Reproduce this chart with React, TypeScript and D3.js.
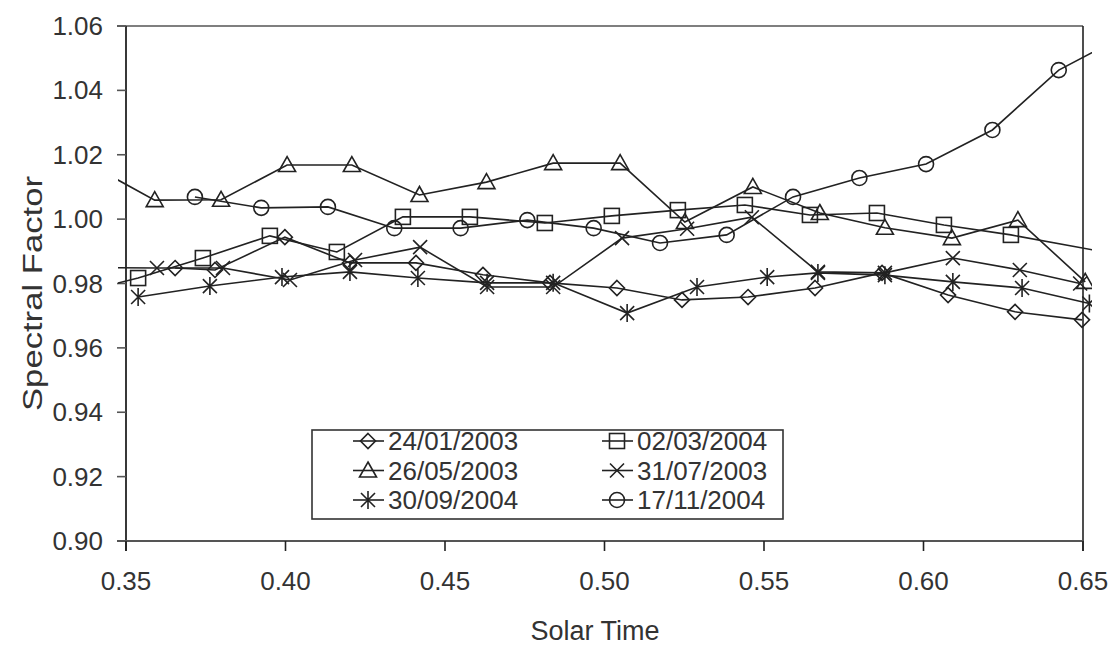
import React from 'react';
import * as d3 from 'd3';

const xTicks = [0.35, 0.4, 0.45, 0.5, 0.55, 0.6, 0.65];
const yTicks = [0.9, 0.92, 0.94, 0.96, 0.98, 1.0, 1.02, 1.04, 1.06];

const seriesNames = ['24/01/2003', '02/03/2004', '26/05/2003', '31/07/2003', '30/09/2004', '17/11/2004'];

const tJan03 = [0.3654, 0.3779, 0.3998, 0.4202, 0.4409, 0.4619, 0.4829, 0.5039, 0.5243, 0.545, 0.566, 0.587, 0.6077, 0.6287, 0.6497];
const vJan03 = [0.9848, 0.9842, 0.9944, 0.9864, 0.9864, 0.9827, 0.9802, 0.9786, 0.9749, 0.9758, 0.9786, 0.9833, 0.9764, 0.9712, 0.9687];

const tMar04 = [0.3327, 0.3538, 0.3741, 0.3951, 0.4161, 0.4368, 0.4578, 0.4813, 0.5023, 0.523, 0.544, 0.5644, 0.5854, 0.6064, 0.6274, 0.66];
const vMar04 = [0.9765, 0.9817, 0.9879, 0.9948, 0.9898, 1.0007, 1.0007, 0.9988, 1.001, 1.0028, 1.0044, 1.0013, 1.0019, 0.9982, 0.9951, 0.9892];

const tMay03 = [0.3382, 0.359, 0.3798, 0.4005, 0.4208, 0.442, 0.463, 0.4839, 0.5049, 0.5252, 0.5465, 0.5675, 0.5879, 0.6089, 0.6296, 0.6507];
const vMay03 = [1.0172, 1.0059, 1.006, 1.0168, 1.0168, 1.0075, 1.0115, 1.0174, 1.0174, 0.9991, 1.01, 1.0019, 0.9973, 0.9941, 0.9997, 0.9805];

const tJul03 = [0.3387, 0.3597, 0.3804, 0.4014, 0.4218, 0.4422, 0.4632, 0.4839, 0.5055, 0.5259, 0.5462, 0.5669, 0.5879, 0.6092, 0.6302, 0.6491];
const vJul03 = [0.985, 0.9848, 0.9848, 0.9811, 0.9873, 0.9913, 0.9789, 0.9789, 0.9941, 0.997, 1.0006, 0.9836, 0.9833, 0.9879, 0.9842, 0.98];

const tSep04 = [0.3538, 0.3763, 0.3989, 0.4202, 0.4415, 0.4632, 0.4839, 0.5071, 0.529, 0.551, 0.5669, 0.5879, 0.6092, 0.6309, 0.652];
const vSep04 = [0.9758, 0.9792, 0.982, 0.9836, 0.9817, 0.9802, 0.9802, 0.9708, 0.9789, 0.982, 0.9833, 0.9826, 0.9805, 0.9786, 0.9738];

const tNov04 = [0.3716, 0.3924, 0.4133, 0.4341, 0.4549, 0.4758, 0.4966, 0.5174, 0.5383, 0.5591, 0.5799, 0.6008, 0.6216, 0.6424, 0.6633];
const vNov04 = [1.0069, 1.0035, 1.0038, 0.9972, 0.9972, 0.9997, 0.9972, 0.9926, 0.9951, 1.0069, 1.0128, 1.0171, 1.0277, 1.0463, 1.0572];

const seriesT = [tJan03, tMar04, tMay03, tJul03, tSep04, tNov04];
const seriesV = [vJan03, vMar04, vMay03, vJul03, vSep04, vNov04];
const seriesMarker = ['diamond', 'square', 'triangle', 'cross', 'asterisk', 'circle'];

const W = 1114, H = 645;
const L = 126, R = 1083, T = 26, B = 541;
const INK = '#222';
const FONT = '"Liberation Sans", Arial, Helvetica, sans-serif';

function Marker({ type, x, y }: { type: string; x: number; y: number }) {
  const s = 7.5;
  const common = { fill: 'none', stroke: INK, strokeWidth: 1.6 };
  if (type === 'diamond') {
    return <path d={`M${x},${y - s}L${x + s},${y}L${x},${y + s}L${x - s},${y}Z`} {...common} />;
  }
  if (type === 'square') {
    return <rect x={x - s} y={y - s} width={2 * s} height={2 * s} {...common} />;
  }
  if (type === 'triangle') {
    return <path d={`M${x},${y - s - 1}L${x + s + 1},${y + s - 1}L${x - s - 1},${y + s - 1}Z`} {...common} />;
  }
  if (type === 'cross') {
    const c = 7;
    return <path d={`M${x - c},${y - c}L${x + c},${y + c}M${x - c},${y + c}L${x + c},${y - c}`} {...common} />;
  }
  if (type === 'asterisk') {
    const c = 7;
    return (
      <path
        d={`M${x - c},${y - c}L${x + c},${y + c}M${x - c},${y + c}L${x + c},${y - c}M${x},${y - c - 2}L${x},${y + c + 2}`}
        {...common}
      />
    );
  }
  return <circle cx={x} cy={y} r={s} {...common} />;
}

export default function App() {
  const x = d3.scaleLinear().domain([0.35, 0.65]).range([L, R]);
  const y = d3.scaleLinear().domain([0.9, 1.06]).range([B, T]);
  const line = d3
    .line<[number, number]>()
    .x((d) => x(d[0]))
    .y((d) => y(d[1]));

  const legendRows = [
    [0, 1],
    [2, 3],
    [4, 5],
  ];

  return (
    <svg width={W} height={H} style={{ position: 'absolute', left: 0, top: 0, background: '#fff' }} fontFamily={FONT}>
      <defs>
        <clipPath id="plotclip">
          <rect x={L - 8} y={0} width={R - L + 17} height={B + 5} />
        </clipPath>
      </defs>
      <rect x={0} y={0} width={W} height={H} fill="#fff" />

      {/* frame */}
      <line x1={L - 9} x2={R} y1={T} y2={T} stroke="#555" strokeWidth={1.6} />
      <line x1={R} x2={R} y1={T} y2={B + 10} stroke={INK} strokeWidth={1.6} />
      <line x1={L} x2={L} y1={T} y2={B + 10} stroke={INK} strokeWidth={1.8} />
      <line x1={L - 9} x2={R} y1={B} y2={B} stroke="#555" strokeWidth={1.8} />

      {/* y ticks */}
      {yTicks.map((v) => (
        <g key={'y' + v}>
          <line x1={L - 9} x2={L} y1={y(v)} y2={y(v)} stroke="#555" strokeWidth={1.6} />
          <text x={103} y={y(v)} dy="0.35em" textAnchor="end" fontSize={26} fill="#333">
            {d3.format('.2f')(v)}
          </text>
        </g>
      ))}
      {/* x ticks */}
      {xTicks.map((v) => (
        <g key={'x' + v}>
          <line x1={x(v)} x2={x(v)} y1={B} y2={B + 10} stroke={INK} strokeWidth={1.6} />
          <text x={x(v)} y={590} textAnchor="middle" fontSize={26} fill="#333">
            {d3.format('.2f')(v)}
          </text>
        </g>
      ))}

      <text x={595} y={640} textAnchor="middle" fontSize={27} fill="#333">
        Solar Time
      </text>
      <text
        transform={`translate(42,${(T + B) / 2 + 10}) rotate(-90)`}
        textAnchor="middle"
        fontSize={27}
        fill="#333"
        textLength={235}
        lengthAdjust="spacingAndGlyphs"
      >
        Spectral Factor
      </text>

      {/* series */}
      <g clipPath="url(#plotclip)">
        {seriesT.map((ts, i) => {
          const pts: [number, number][] = ts.map((t, j) => [t, seriesV[i][j]]);
          return (
            <g key={'s' + i}>
              <path d={line(pts) || ''} fill="none" stroke={INK} strokeWidth={1.6} />
              {pts.map((p, j) => (
                <Marker key={j} type={seriesMarker[i]} x={x(p[0])} y={y(p[1])} />
              ))}
            </g>
          );
        })}
      </g>

      {/* legend */}
      <g>
        <rect x={312} y={430} width={471} height={89} fill="#fff" stroke="#333" strokeWidth={1.6} />
        {legendRows.map((row, r) =>
          row.map((si, c) => {
            const lx = c === 0 ? 353 : 602;
            const ly = 441 + r * 29.5;
            return (
              <g key={'l' + si}>
                <line x1={lx} x2={lx + 31} y1={ly} y2={ly} stroke={INK} strokeWidth={1.6} />
                <Marker type={seriesMarker[si]} x={lx + 15} y={ly} />
                <text x={lx + 35} y={ly} dy="0.36em" fontSize={26} fill="#333">
                  {seriesNames[si]}
                </text>
              </g>
            );
          })
        )}
      </g>
    </svg>
  );
}
